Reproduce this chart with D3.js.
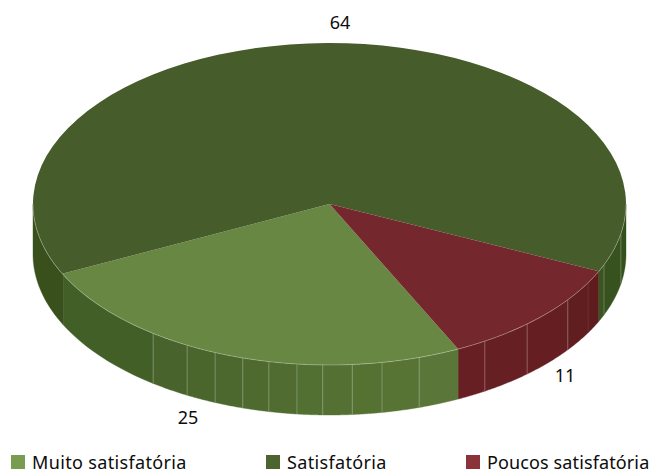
<!DOCTYPE html>
<html><head><meta charset="utf-8">
<script src="https://cdn.jsdelivr.net/npm/d3@7/dist/d3.min.js"></script>
<style>html,body{margin:0;padding:0;background:#fff}svg{display:block}text{font-family:"Noto Sans",sans-serif;fill:#0c0c0c}</style>
</head><body><svg id="c" width="649" height="470"></svg>
<script>
const categories=["Muito satisfatória","Satisfatória","Poucos satisfatória"];
const values=[25,64,11];
const topColors=["#688743","#465c2a","#74282d"];
const legendColors=["#7a9c50","#4b6430","#8a333a"];
// wall facets: angle (deg clockwise from top) where each facet ends, and its colour
const facetEnds=[90,100.6,112.2,114.9,119.3,126.5,138.2,148.4,154.3,162.4,169.8,175.6,181.3,186.3,191.8,197,202.7,208.7,216.5,243.9,270];
const facetColors=["#34501d","#37521f","#3b5520","#5f1c1f","#611e20","#651f22","#661f23","#671f23","#5a7638","#587435","#567233","#547032","#527031","#506c30","#4e6a2f","#4c682e","#4a662d","#48632c","#435f28","#3a501c"];
const faintSeams=[119.3];
const solidJoins=[114.9,154.3,243.9];
const legendSpacing=[0.35,0.35,0.12];
const W=649,H=470,cx=329.5,cy=204,rx=296.5,ry=161,depth=50;
const svg=d3.select("#c");
const rad=d3.scaleLinear().domain([0,180]).range([0,Math.PI]);
const px=a=>cx+rx*Math.sin(a), py=a=>cy-ry*Math.cos(a);
const pie=d3.pie().sort(null).startAngle(rad(154.3)).endAngle(rad(154.3+360));
const arcs=pie(values);
const wall=d3.area().x(a=>px(a)).y0(a=>py(a)+depth).y1(a=>py(a));
const facets=facetColors.map((c,i)=>({c,a0:rad(facetEnds[i]),a1:rad(facetEnds[i+1])}));
svg.append("g").selectAll("path").data(facets).join("path")
  .attr("d",f=>wall(d3.range(0,25).map(k=>f.a0+(f.a1-f.a0)*k/24)))
  .attr("fill",f=>f.c).attr("stroke",f=>f.c).attr("stroke-width",0.4);
const seams=facetEnds.slice(1,-1).filter(d=>!solidJoins.includes(d));
svg.append("g").selectAll("line").data(seams).join("line")
  .attr("x1",d=>px(rad(d))).attr("x2",d=>px(rad(d)))
  .attr("y1",d=>py(rad(d))).attr("y2",d=>py(rad(d))+depth)
  .attr("stroke","#fff").attr("stroke-opacity",d=>faintSeams.includes(d)?0.06:0.25).attr("stroke-width",1);
const arc=d3.arc().innerRadius(0).outerRadius(rx);
svg.append("g").attr("transform",`translate(${cx},${cy}) scale(1,${ry/rx})`)
 .selectAll("path").data(arcs).join("path")
 .attr("d",arc).attr("fill",(d,i)=>topColors[i]);
svg.append("path").attr("d",d3.line().x(px).y(py)(d3.range(0,91).map(k=>rad(90+k*2))))
 .attr("fill","none").attr("stroke","#fff").attr("stroke-opacity",0.35).attr("stroke-width",0.8);
const labels=[{t:values[0],x:188,y:424},{t:values[1],x:340,y:29},{t:values[2],x:565,y:382}];
svg.append("g").selectAll("text").data(labels).join("text")
 .attr("x",d=>d.x).attr("y",d=>d.y).attr("text-anchor","middle").attr("font-size",18).text(d=>d.t);
const lx=[11,266,466];
const lg=svg.append("g").selectAll("g").data(categories).join("g").attr("transform",(d,i)=>`translate(${lx[i]},455)`);
lg.append("rect").attr("width",14).attr("height",14).attr("fill",(d,i)=>legendColors[i]);
lg.append("text").attr("x",21).attr("y",13.5).attr("font-size",18).attr("letter-spacing",(d,i)=>legendSpacing[i]).text(d=>d);
</script></body></html>
